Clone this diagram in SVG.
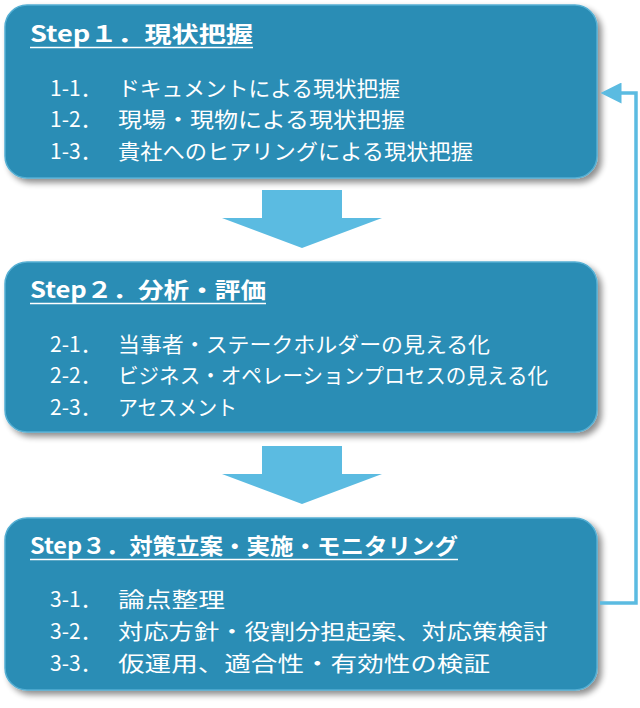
<svg xmlns="http://www.w3.org/2000/svg" width="640" height="708" viewBox="0 0 640 708">
<defs>
<filter id="sh" x="-5%" y="-5%" width="115%" height="120%"><feGaussianBlur in="SourceAlpha" stdDeviation="3"/><feOffset dx="4" dy="4"/><feComponentTransfer><feFuncA type="linear" slope="0.45"/></feComponentTransfer><feMerge><feMergeNode/><feMergeNode in="SourceGraphic"/></feMerge></filter>
<marker id="ah" markerWidth="6" markerHeight="6" refX="5" refY="3" orient="auto" markerUnits="strokeWidth"><path d="M0,0 L6,3 L0,6 z" fill="#5BBBE1"/></marker>
</defs>
<style>
.box{fill:#2A8DB5;stroke:#55AFD3;stroke-width:1.5;filter:url(#sh)}
text{fill:#fff;font-family:"Noto Sans CJK JP","Noto Sans",sans-serif}
.t{font-size:22px;font-weight:bold}
.i{font-size:21px}
.u{stroke:#fff;stroke-width:1.5}
.dn{fill:#5BBBE1}
</style>
<g id="step1"><rect class="box" x="5" y="5" width="592" height="173" rx="22"/>
<text class="t" x="30" y="42" textLength="223" lengthAdjust="spacingAndGlyphs">Step１．現状把握</text>
<line class="u" x1="30" y1="47.5" x2="253" y2="47.5"/>
<text class="i" x="50" y="96">1-1．</text><text class="i" x="118" y="96" textLength="282" lengthAdjust="spacingAndGlyphs">ドキュメントによる現状把握</text>
<text class="i" x="50" y="127">1-2．</text><text class="i" x="118" y="127" textLength="287" lengthAdjust="spacingAndGlyphs">現場・現物による現状把握</text>
<text class="i" x="50" y="159">1-3．</text><text class="i" x="118" y="159" textLength="355" lengthAdjust="spacingAndGlyphs">貴社へのヒアリングによる現状把握</text></g>
<g id="step2"><rect class="box" x="5" y="262" width="592" height="170" rx="22"/>
<text class="t" x="30" y="298" textLength="236" lengthAdjust="spacingAndGlyphs">Step２．分析・評価</text>
<line class="u" x1="30" y1="303.5" x2="266" y2="303.5"/>
<text class="i" x="50" y="352">2-1．</text><text class="i" x="118" y="352" textLength="372" lengthAdjust="spacingAndGlyphs">当事者・ステークホルダーの見える化</text>
<text class="i" x="50" y="383">2-2．</text><text class="i" x="118" y="383" textLength="430" lengthAdjust="spacingAndGlyphs">ビジネス・オペレーションプロセスの見える化</text>
<text class="i" x="50" y="415">2-3．</text><text class="i" x="118" y="415" textLength="119" lengthAdjust="spacingAndGlyphs">アセスメント</text></g>
<g id="step3"><rect class="box" x="5" y="518" width="592" height="172" rx="22"/>
<text class="t" x="30" y="554" textLength="428" lengthAdjust="spacingAndGlyphs">Step３．対策立案・実施・モニタリング</text>
<line class="u" x1="30" y1="559.5" x2="458" y2="559.5"/>
<text class="i" x="50" y="607">3-1．</text><text class="i" x="118" y="607" textLength="107" lengthAdjust="spacingAndGlyphs">論点整理</text>
<text class="i" x="50" y="639">3-2．</text><text class="i" x="118" y="639" textLength="430" lengthAdjust="spacingAndGlyphs">対応方針・役割分担起案、対応策検討</text>
<text class="i" x="50" y="671">3-3．</text><text class="i" x="118" y="671" textLength="372" lengthAdjust="spacingAndGlyphs">仮運用、適合性・有効性の検証</text></g>
<g id="connectors">
<polygon class="dn" points="262,190 342,190 342,218 382,218 302,248 222,218 262,218"/>
<polygon class="dn" points="262,446 342,446 342,474 382,474 302,504 222,474 262,474"/>
<polyline points="600,603 636,603 636,93 604,93" fill="none" stroke="#5BBBE1" stroke-width="3.5" marker-end="url(#ah)"/>
</g>
</svg>
